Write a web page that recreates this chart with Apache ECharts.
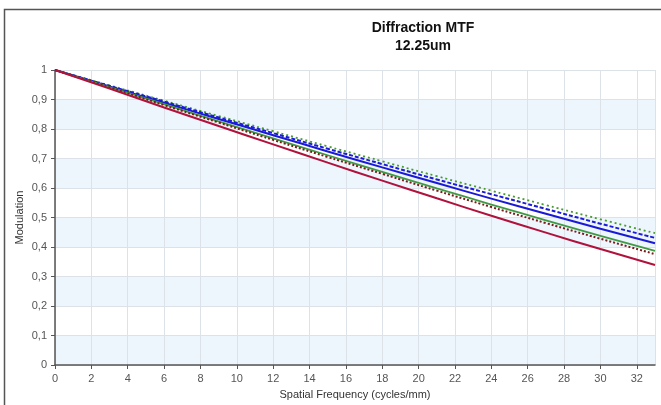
<!DOCTYPE html>
<html>
<head>
<meta charset="utf-8">
<script src="https://cdn.jsdelivr.net/npm/echarts@6/dist/echarts.min.js"></script>
<style>
  html, body { margin: 0; padding: 0; background: #fff; }
  #chart { width: 661px; height: 405px; }
</style>
</head>
<body>
<div id="chart"></div>
<script>
// spatial frequency samples (cycles/mm)
const freq = [0, 3, 6, 9, 12, 15, 18, 21, 24, 27, 30, 33]

// modulation values
const greenDotted = [1, 0.948, 0.896, 0.844, 0.7925, 0.741, 0.6905, 0.640, 0.591, 0.542, 0.494, 0.447]
const blueDashed = [1, 0.946, 0.893, 0.839, 0.786, 0.733, 0.681, 0.629, 0.579, 0.529, 0.479, 0.431]
const blueSolid = [1, 0.944, 0.889, 0.834, 0.779, 0.724, 0.670, 0.617, 0.564, 0.513, 0.462, 0.413]
const greenSolid = [1, 0.942, 0.884, 0.826, 0.768, 0.711, 0.655, 0.599, 0.544, 0.4905, 0.438, 0.387]
const redDotted = [1, 0.941, 0.881, 0.822, 0.763, 0.705, 0.648, 0.591, 0.5355, 0.481, 0.428, 0.376]
const redSolid = [1, 0.937, 0.873, 0.810, 0.748, 0.686, 0.625, 0.565, 0.506, 0.4487, 0.393, 0.339]

const chart = echarts.init(document.getElementById('chart'))

function pairs(vals) {
  return freq.map((f, i) => [f, vals[i]])
}

function line(name, vals, color, type, width) {
  return {
    name: name,
    type: 'line',
    smooth: true,
    symbol: 'none',
    data: pairs(vals),
    lineStyle: { color: color, width: width, type: type },
    z: 3
  }
}

const option = {
  animation: false,
  textStyle: { fontFamily: 'Liberation Sans, Arial, sans-serif' },
  title: {
    text: 'Diffraction MTF\n12.25um',
    left: 418,
    top: 14,
    textAlign: 'center',
    textStyle: {
      fontSize: 14,
      fontWeight: 'bold',
      color: '#111',
      lineHeight: 18,
      fontFamily: 'Liberation Sans, Arial, sans-serif'
    }
  },
  graphic: [{
    type: 'rect',
    shape: { x: 4.5, y: 9.5, width: 800, height: 600 },
    style: { fill: 'none', stroke: '#555', lineWidth: 1.5 },
    silent: true
  }],
  grid: { left: 55, right: 6, top: 70, bottom: 36 },
  xAxis: {
    type: 'value',
    min: 0,
    max: 33,
    interval: 2,
    name: 'Spatial Frequency (cycles/mm)',
    nameLocation: 'middle',
    nameGap: 24,
    nameTextStyle: { fontSize: 11, color: '#333' },
    axisLine: { lineStyle: { color: '#555', width: 1.5 } },
    axisTick: { show: true, length: 4, lineStyle: { color: '#555' } },
    axisLabel: { fontSize: 11, color: '#555', margin: 8, showMaxLabel: false },
    splitLine: { show: true, lineStyle: { color: '#dde2e8', width: 1 } }
  },
  yAxis: {
    type: 'value',
    min: 0,
    max: 1,
    interval: 0.1,
    name: 'Modulation',
    nameLocation: 'middle',
    nameGap: 30,
    nameMoveOverlap: false,
    nameTextStyle: { fontSize: 11, color: '#333' },
    axisLine: { show: true, lineStyle: { color: '#555', width: 1.5 } },
    axisTick: { show: true, length: 4, lineStyle: { color: '#555' } },
    axisLabel: {
      fontSize: 11,
      color: '#555',
      margin: 8,
      formatter: v => String(Math.round(v * 10) / 10).replace('.', ',')
    },
    splitLine: { show: true, lineStyle: { color: '#dde2e8', width: 1 } },
    splitArea: { show: true, areaStyle: { color: ['#edf5fd', '#ffffff'] } }
  },
  series: [
    line('green dotted', greenDotted, '#4a9a30', [2, 3], 1.8),
    line('blue dashed', blueDashed, '#1c1cd8', [4, 2], 2),
    line('blue', blueSolid, '#1a1ad6', 'solid', 2),
    line('green', greenSolid, '#3f9a46', 'solid', 1.8),
    line('red dotted', redDotted, '#7a1a1a', [2, 2], 2),
    line('red', redSolid, '#b0123c', 'solid', 2)
  ]
}

chart.setOption(option)
</script>
</body>
</html>
